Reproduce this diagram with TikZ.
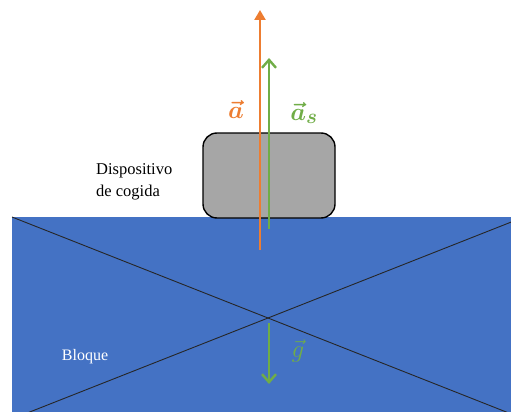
\documentclass[tikz,border=0pt]{standalone}
\usepackage{fontspec}
\setmainfont{Liberation Serif}
\usepackage{amsmath}
\usepackage{bm}
\usetikzlibrary{arrows.meta}
\definecolor{blk}{HTML}{4472C4}
\definecolor{orn}{HTML}{ED7D31}
\definecolor{grn}{HTML}{70AD47}
\definecolor{gry}{HTML}{A6A6A6}
\begin{document}
\begin{tikzpicture}[x=1pt,y=-1pt,
  vec/.style={line width=2.4pt},
  openhead/.style={-{Straight Barb[length=8pt,width=14pt,line width=2.4pt]}},
  lbl/.style={inner sep=0pt}]
\useasboundingbox (0,0) rectangle (511,412);
\begin{scope}
\clip (0,0) rectangle (511,412);
\fill[blk] (12,217) rectangle (524,419);
\draw[black!85,line width=0.9pt] (12,217) -- (524,419);
\draw[black!85,line width=0.9pt] (12,419) -- (524,217);
\end{scope}
\node[draw=black,line width=1.4pt,fill=gry,rounded corners=14pt,minimum width=132pt,minimum height=85pt,inner sep=0pt] (disp) at (269,175.5) {};
\coordinate (oa) at (260,250);
\coordinate (ob) at (260,10);
\draw[vec,orn,-{Triangle[length=10pt,width=11pt]}] (oa) -- (ob);
\coordinate (ga) at (269,229);
\coordinate (gb) at (269,58);
\draw[vec,grn,openhead] (ga) -- (gb);
\coordinate (ka) at (269,323);
\coordinate (kb) at (269,384);
\draw[vec,grn,openhead] (ka) -- (kb);
\node[lbl,text=orn,font=\fontsize{29}{30}\selectfont] (la) at (236,109) {$\bm{\vec{a}}$};
\node[lbl,text=grn,font=\fontsize{29}{30}\selectfont] (las) at (304,113) {$\bm{\vec{a}_s}$};
\node[lbl,text=grn,font=\fontsize{27}{28}\selectfont] (lg) at (298,351) {$\vec{g}$};
\node[lbl,align=left,font=\fontsize{16.5}{22}\selectfont,anchor=west] (ldisp) at (96,182) {Dispositivo\\de cogida};
\node[lbl,text=white,font=\fontsize{16}{18}\selectfont] (lbl2) at (85,357) {Bloque};
\end{tikzpicture}
\end{document}
